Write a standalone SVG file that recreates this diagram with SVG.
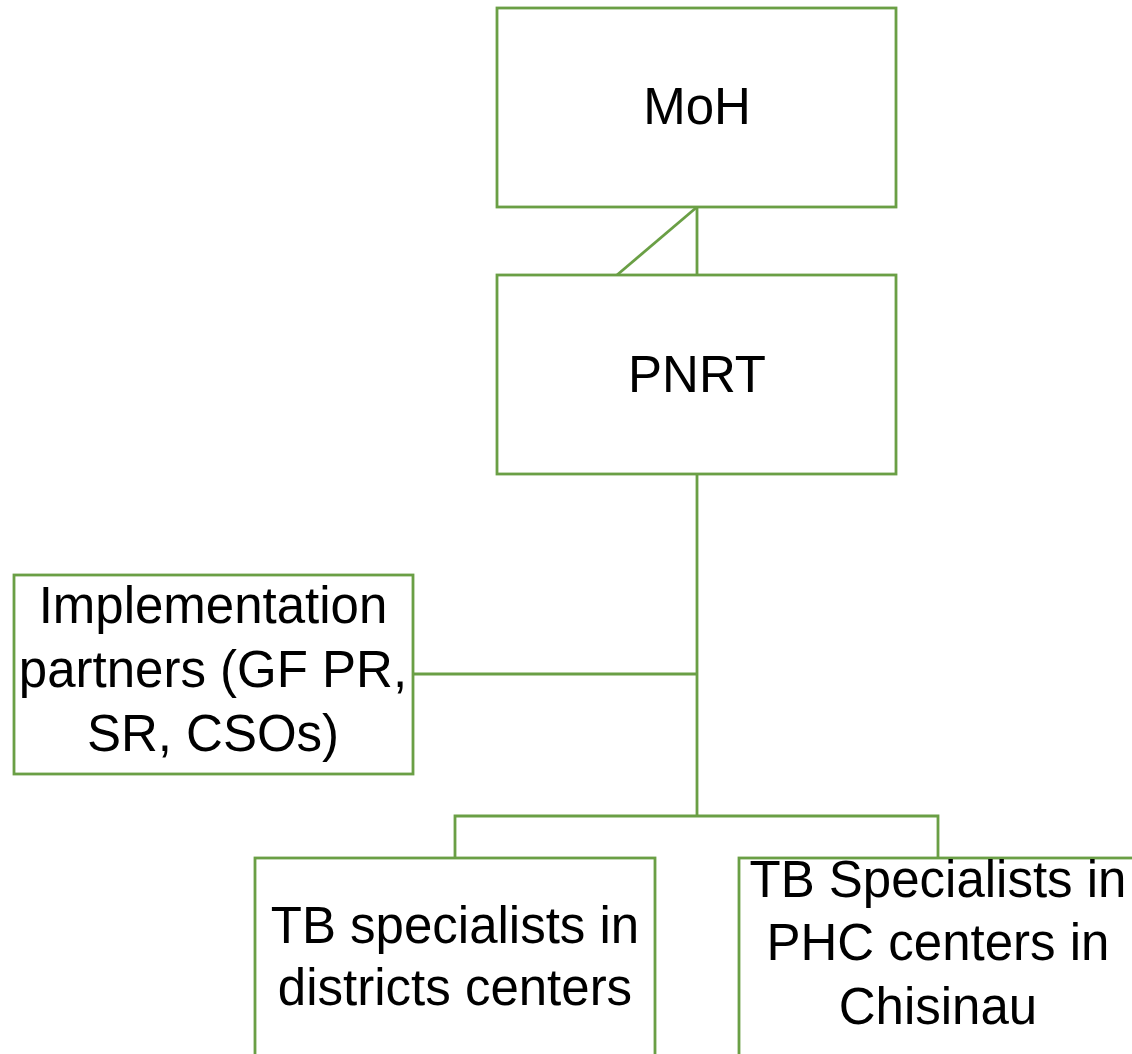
<svg xmlns="http://www.w3.org/2000/svg" width="1132" height="1054" viewBox="0 0 1132 1054">
<style>
.box{fill:#ffffff;stroke:#6A9F45;stroke-width:2.8}
.conn{fill:none;stroke:#6A9F45;stroke-width:2.8}
.lbl{font-family:"Liberation Sans","Open Sans",sans-serif;font-size:51px;fill:#000000;text-anchor:middle}
</style>
<rect width="1132" height="1054" fill="#ffffff"/>
<g id="connectors">
<line class="conn" x1="697" y1="207" x2="697" y2="275"/>
<line class="conn" x1="697" y1="207" x2="617" y2="275"/>
<line class="conn" x1="697" y1="474" x2="697" y2="816"/>
<line class="conn" x1="413" y1="674" x2="697" y2="674"/>
<polyline class="conn" points="455,858 455,816 938,816 938,858"/>
</g>
<g id="moh">
<rect class="box" x="497" y="8" width="399" height="199"/>
<text class="lbl" x="697" y="124">MoH</text>
</g>
<g id="pnrt">
<rect class="box" x="497" y="275" width="399" height="199"/>
<text class="lbl" x="697" y="392">PNRT</text>
</g>
<g id="partners">
<rect class="box" x="14" y="575" width="399" height="199"/>
<text class="lbl" x="213" y="623">Implementation</text>
<text class="lbl" x="213" y="687">partners (GF PR,</text>
<text class="lbl" x="213" y="751">SR, CSOs)</text>
</g>
<g id="districts">
<rect class="box" x="255" y="858" width="400" height="210"/>
<text class="lbl" x="455" y="943">TB specialists in</text>
<text class="lbl" x="455" y="1005">districts centers</text>
</g>
<g id="phc">
<rect class="box" x="739" y="858" width="410" height="210"/>
<text class="lbl" x="938" y="897">TB Specialists in</text>
<text class="lbl" x="938" y="960">PHC centers in</text>
<text class="lbl" x="938" y="1024">Chisinau</text>
</g>
</svg>
